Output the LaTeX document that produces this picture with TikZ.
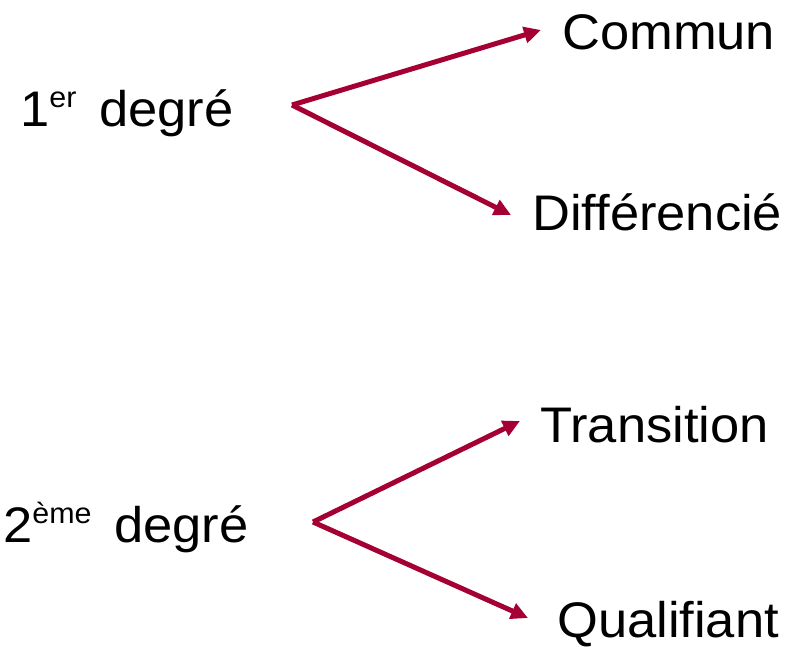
\documentclass[tikz,border=0pt]{standalone}
\usepackage{fontspec}
\setmainfont[FakeStretch=1.05]{Liberation Sans}
\usetikzlibrary{arrows.meta}
\definecolor{arr}{HTML}{A50034}
\tikzset{
  lbl/.style={anchor=base west, inner sep=0pt, font=\fontsize{50}{60}\selectfont},
  conn/.style={draw=arr, line width=5pt, -{Triangle[length=17pt,width=16pt]}}
}
\newcommand{\supx}[1]{\raisebox{19pt}{\fontsize{29}{30}\selectfont #1}\hspace{8pt}}
\begin{document}
\begin{tikzpicture}[x=1pt,y=-1pt]
\useasboundingbox (0,0) rectangle (792,647);
\node[lbl] (d1) at (20,127) {1\supx{er} degré};
\node[lbl] (com) at (562,50) {Commun};
\node[lbl] (dif) at (532,230) {Différencié};
\node[lbl] (d2) at (3,542) {2\supx{ème} degré};
\node[lbl] (tra) at (540,442) {Transition};
\node[lbl] (qua) at (557,637) {Qualifiant};
\coordinate (o1) at (292,105);
\coordinate (o2) at (313,522);
\coordinate (e1) at (541,30);
\coordinate (e2) at (511,215);
\coordinate (e3) at (520,421);
\coordinate (e4) at (528,618);
\draw[conn] (o1) -- (e1);
\draw[conn] (o1) -- (e2);
\draw[conn] (o2) -- (e3);
\draw[conn] (o2) -- (e4);
\end{tikzpicture}
\end{document}
